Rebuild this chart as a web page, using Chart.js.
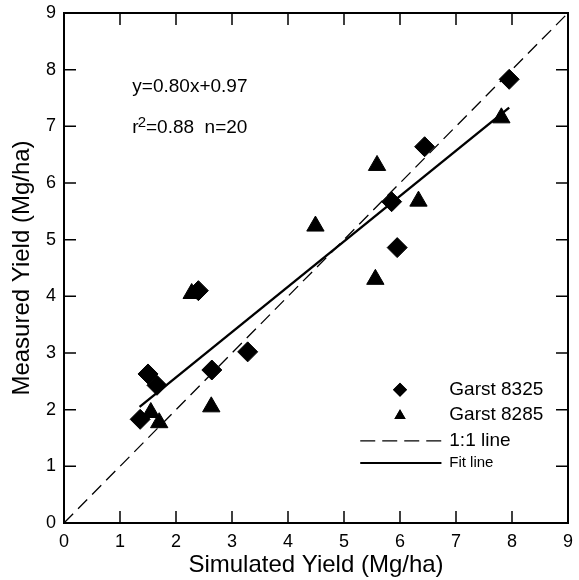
<!DOCTYPE html>
<html>
<head>
<meta charset="utf-8">
<script src="https://cdn.jsdelivr.net/npm/chart.js@4/dist/chart.umd.min.js"></script>
<style>
  html, body { margin: 0; padding: 0; background: #fff; }
  #wrap { width: 579px; height: 580px; }
</style>
</head>
<body>
<div id="wrap"><canvas id="myChart" width="579" height="580"></canvas></div>
<script>
// data
let garst8325_x = [1.36, 1.50, 1.66, 2.64, 3.28, 2.40, 5.85, 5.95, 6.44, 7.95];
let garst8325_y = [1.83, 2.63, 2.43, 2.70, 3.02, 4.10, 5.67, 4.86, 6.64, 7.83];
let garst8285_x = [1.55, 1.70, 2.63, 2.28, 4.49, 5.56, 5.59, 6.33, 7.81];
let garst8285_y = [1.95, 1.77, 2.05, 4.05, 5.24, 4.30, 6.31, 5.68, 7.15];
let oneToOne_x = [0, 9];
let oneToOne_y = [0, 9];
let fit_x = [1.35, 7.95];
let fit_y = [2.05, 7.33];
let tickValues = [0, 1, 2, 3, 4, 5, 6, 7, 8, 9];

const FONT = '"Liberation Sans", Arial, Helvetica, sans-serif';

function pts(xs, ys) {
    return xs.map(function(x, i){ return {x: x, y: ys[i]} })
}

// frame, inward ticks, equation text and the legend
const decor = {
    id: 'decor',
    afterDatasetsDraw(chart) {
        const ctx = chart.ctx;
        const a = chart.chartArea;
        const xs = chart.scales.x, ys = chart.scales.y;
        ctx.save();
        ctx.strokeStyle = '#000';
        ctx.lineWidth = 2;
        ctx.strokeRect(a.left, a.top, a.right - a.left, a.bottom - a.top);

        ctx.lineWidth = 1.5;
        ctx.beginPath();
        tickValues.forEach(function(v){
            if (v == 0 || v == 9) return;
            let px = xs.getPixelForValue(v);
            ctx.moveTo(px, a.bottom); ctx.lineTo(px, a.bottom - 12);
            ctx.moveTo(px, a.top); ctx.lineTo(px, a.top + 12);
            let py = ys.getPixelForValue(v);
            ctx.moveTo(a.left, py); ctx.lineTo(a.left + 12, py);
            ctx.moveTo(a.right, py); ctx.lineTo(a.right - 12, py);
        });
        ctx.stroke();

        // equation
        ctx.fillStyle = '#000';
        ctx.textBaseline = 'middle';
        ctx.textAlign = 'left';
        let tx = xs.getPixelForValue(1.22);
        ctx.font = '19px ' + FONT;
        ctx.fillText('y=0.80x+0.97', tx, ys.getPixelForValue(7.70));
        let ry = ys.getPixelForValue(6.97);
        ctx.fillText('r', tx, ry);
        let w = ctx.measureText('r').width;
        ctx.font = '15px ' + FONT;
        ctx.fillText('2', tx + w - 1, ry - 5);
        let w2 = ctx.measureText('2').width;
        ctx.font = '19px ' + FONT;
        ctx.fillText('=0.88  n=20', tx + w + w2 - 1, ry);

        // legend
        let mx = xs.getPixelForValue(6.0);
        let l0 = xs.getPixelForValue(5.29), l1 = xs.getPixelForValue(6.74);
        let lx = xs.getPixelForValue(6.88);
        let y1 = ys.getPixelForValue(2.35), y2 = ys.getPixelForValue(1.91);
        let y3 = ys.getPixelForValue(1.45), y4 = ys.getPixelForValue(1.06);
        Chart.helpers.drawPoint(ctx, {pointStyle: 'rectRot', radius: 7, borderWidth: 0}, mx, y1);
        ctx.fill();
        Chart.helpers.drawPoint(ctx, {pointStyle: 'triangle', radius: 6.5, borderWidth: 0}, mx, y2 + 1);
        ctx.fill();
        ctx.lineWidth = 1.3;
        ctx.setLineDash([15, 7]);
        ctx.beginPath(); ctx.moveTo(l0, y3); ctx.lineTo(l1, y3); ctx.stroke();
        ctx.setLineDash([]);
        ctx.lineWidth = 2;
        ctx.beginPath(); ctx.moveTo(l0, y4); ctx.lineTo(l1, y4); ctx.stroke();
        ctx.font = '19px ' + FONT;
        ctx.fillText('Garst 8325', lx, y1);
        ctx.fillText('Garst 8285', lx, y2);
        ctx.fillText('1:1 line', lx, y3);
        ctx.font = '15px ' + FONT;
        ctx.fillText('Fit line', lx, y4);
        ctx.restore();
    }
};

let data = {
    datasets: [{
        label: 'Garst 8325',
        type: 'scatter',
        data: pts(garst8325_x, garst8325_y),
        pointStyle: 'rectRot',
        pointRadius: 10,
        backgroundColor: '#000',
        borderColor: '#000',
        borderWidth: 1
    },
    {
        label: 'Garst 8285',
        type: 'scatter',
        data: pts(garst8285_x, garst8285_y),
        pointStyle: 'triangle',
        pointRadius: 10,
        backgroundColor: '#000',
        borderColor: '#000',
        borderWidth: 1
    },
    {
        label: '1:1 line',
        type: 'line',
        data: pts(oneToOne_x, oneToOne_y),
        borderColor: '#000',
        borderWidth: 1.3,
        borderDash: [13, 7],
        pointRadius: 0,
        fill: false
    },
    {
        label: 'Fit line',
        type: 'line',
        data: pts(fit_x, fit_y),
        borderColor: '#000',
        borderWidth: 2.4,
        pointRadius: 0,
        fill: false
    }]
}

let config = {
    type: 'scatter',
    data,
    options: {
        responsive: false,
        animation: false,
        layout: { padding: { top: 13, right: 7, left: 0, bottom: 0 } },
        plugins: {
            legend: { display: false },
            tooltip: { enabled: false }
        },
        scales: {
            x: {
                type: 'linear',
                min: 0, max: 9,
                afterBuildTicks: function(s){ s.ticks = tickValues.map(function(v){ return {value: v} }) },
                afterFit: function(s){ s.height = 57; s.paddingLeft = 0; s.paddingRight = 0 },
                grid: { display: false, drawTicks: false },
                border: { display: false },
                ticks: { color: '#000', padding: 8, font: { family: FONT, size: 18 } },
                title: { display: true, text: 'Simulated Yield (Mg/ha)', color: '#000',
                         padding: { top: 0, bottom: 0 }, font: { family: FONT, size: 24 } }
            },
            y: {
                type: 'linear',
                min: 0, max: 9,
                afterBuildTicks: function(s){ s.ticks = tickValues.map(function(v){ return {value: v} }) },
                afterFit: function(s){ s.width = 64; s.paddingTop = 0; s.paddingBottom = 0 },
                grid: { display: false, drawTicks: false },
                border: { display: false },
                ticks: { color: '#000', padding: 8, font: { family: FONT, size: 18 } },
                title: { display: true, text: 'Measured Yield (Mg/ha)', color: '#000',
                         padding: { top: 8, bottom: 0 }, font: { family: FONT, size: 24 } }
            }
        }
    },
    plugins: [decor]
}

let myChart = new Chart(document.getElementById('myChart'), config);
</script>
</body>
</html>
